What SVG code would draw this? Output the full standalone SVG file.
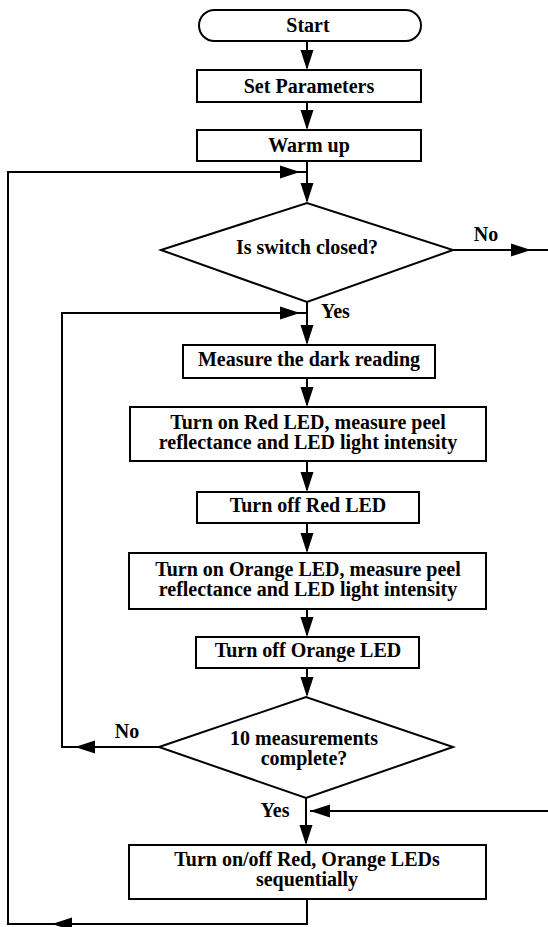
<svg xmlns="http://www.w3.org/2000/svg" xmlns:xlink="http://www.w3.org/1999/xlink" width="548" height="927" viewBox="0 0 548 927">
<style>
.box{fill:#fff;stroke:#000;stroke-width:2}
.ln{fill:none;stroke:#000;stroke-width:2}
text{font-family:"Liberation Serif","Times New Roman",serif;font-weight:bold;font-size:20px;fill:#000;text-anchor:middle}
.lbl{text-anchor:start}
</style>
<defs>
<path id="ah" d="M0,0 L-20,-6.5 L-20,6.5 Z" fill="#000"/>
</defs>
<rect width="548" height="927" fill="#fff"/>
<g id="connectors">
<path class="ln" d="M307,41 V68"/>
<path class="ln" d="M307,102 V128"/>
<path class="ln" d="M307,161 V201"/>
<path class="ln" d="M307,899 V924 H8 V172 H307"/>
<path class="ln" d="M453,250 H548"/>
<path class="ln" d="M307,302 V343"/>
<path class="ln" d="M159,747 H62 V313 H307"/>
<path class="ln" d="M307,378 V405"/>
<path class="ln" d="M307,461 V490"/>
<path class="ln" d="M307,523 V551"/>
<path class="ln" d="M307,609 V635"/>
<path class="ln" d="M307,668 V695"/>
<path class="ln" d="M306,798 V843"/>
<path class="ln" d="M548,811 H310"/>
<use xlink:href="#ah" transform="translate(307,70) rotate(90)"/>
<use xlink:href="#ah" transform="translate(307,130) rotate(90)"/>
<use xlink:href="#ah" transform="translate(307,203) rotate(90)"/>
<use xlink:href="#ah" transform="translate(300,172)"/>
<use xlink:href="#ah" transform="translate(531,250)"/>
<use xlink:href="#ah" transform="translate(307,345) rotate(90)"/>
<use xlink:href="#ah" transform="translate(300,313)"/>
<use xlink:href="#ah" transform="translate(75,747) rotate(180)"/>
<use xlink:href="#ah" transform="translate(307,407) rotate(90)"/>
<use xlink:href="#ah" transform="translate(307,492) rotate(90)"/>
<use xlink:href="#ah" transform="translate(307,553) rotate(90)"/>
<use xlink:href="#ah" transform="translate(307,637) rotate(90)"/>
<use xlink:href="#ah" transform="translate(307,697) rotate(90)"/>
<use xlink:href="#ah" transform="translate(306,845) rotate(90)"/>
<use xlink:href="#ah" transform="translate(310,811) rotate(180)"/>
<use xlink:href="#ah" transform="translate(52,924) rotate(180)"/>
<text x="486" y="241">No</text>
<text class="lbl" x="321" y="318">Yes</text>
<text x="127" y="738">No</text>
<text x="275" y="817">Yes</text>
</g>
<g id="start">
<rect class="box" x="199" y="10" width="222" height="31" rx="15.5"/>
<text x="308" y="32">Start</text>
</g>
<g id="set-parameters">
<rect class="box" x="197" y="70" width="224" height="32"/>
<text x="309" y="93">Set Parameters</text>
</g>
<g id="warm-up">
<rect class="box" x="197" y="130" width="224" height="31"/>
<text x="309" y="152">Warm up</text>
</g>
<g id="switch-closed">
<polygon class="box" points="161,250 307,203 453,250 307,302"/>
<text x="307" y="254">Is switch closed?</text>
</g>
<g id="dark-reading">
<rect class="box" x="183" y="345" width="252" height="33"/>
<text x="309" y="366">Measure the dark reading</text>
</g>
<g id="red-on">
<rect class="box" x="130" y="407" width="356" height="54"/>
<text x="308" y="429"><tspan x="308" y="429">Turn on Red LED, measure peel</tspan><tspan x="308" y="449">reflectance and LED light intensity</tspan></text>
</g>
<g id="red-off">
<rect class="box" x="197" y="492" width="222" height="31"/>
<text x="308" y="512">Turn off Red LED</text>
</g>
<g id="orange-on">
<rect class="box" x="129" y="553" width="357" height="56"/>
<text x="308" y="576"><tspan x="308" y="576">Turn on Orange LED, measure peel</tspan><tspan x="308" y="596">reflectance and LED light intensity</tspan></text>
</g>
<g id="orange-off">
<rect class="box" x="196" y="637" width="223" height="31"/>
<text x="308" y="657">Turn off Orange LED</text>
</g>
<g id="ten-complete">
<polygon class="box" points="159,747 306,697 453,747 306,798"/>
<text x="304" y="745"><tspan x="304" y="745">10 measurements</tspan><tspan x="304" y="765">complete?</tspan></text>
</g>
<g id="sequential">
<rect class="box" x="129" y="845" width="357" height="54"/>
<text x="307" y="866"><tspan x="307" y="866">Turn on/off Red, Orange LEDs</tspan><tspan x="307" y="886">sequentially</tspan></text>
</g>
</svg>
